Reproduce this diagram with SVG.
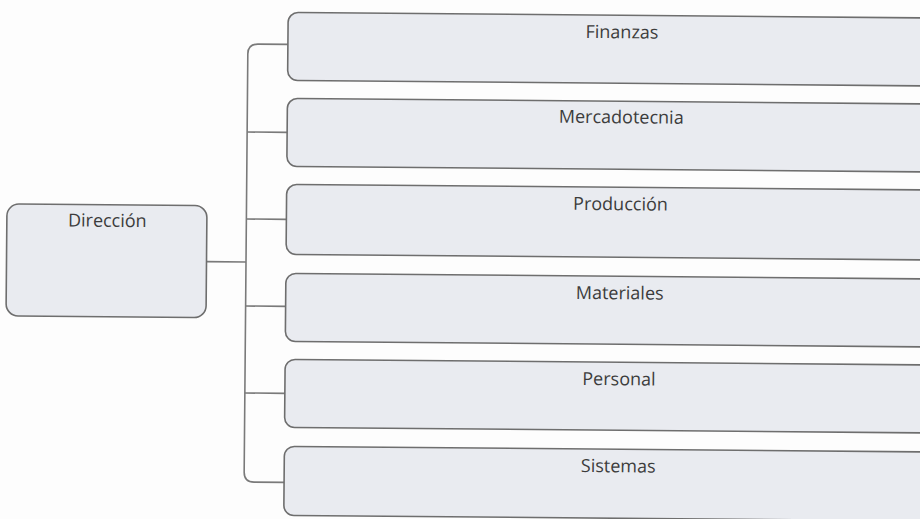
<svg xmlns="http://www.w3.org/2000/svg" width="920" height="519" viewBox="0 0 920 519">
  <style>
    .box { fill: #e9ebf0; stroke: #6e6e6e; stroke-width: 1.6; }
    .lbl { font-family: "Open Sans", "Noto Sans", sans-serif; font-size: 18px; fill: #3c3c3c; text-anchor: middle; }
    .conn { fill: none; stroke: #7a7a7a; stroke-width: 1.6; }
  </style>
  <rect x="0" y="0" width="920" height="519" fill="#fdfdfd"/>
  <g transform="rotate(0.5 246 262)">
    <g id="connectors">
      <path class="conn" d="M206.5,262 H246"/>
      <path class="conn" d="M286,44 H256 Q246,44 246,54 V472 Q246,482 256,482 H286"/>
      <path class="conn" d="M246,132 H286"/>
      <path class="conn" d="M246,219 H286"/>
      <path class="conn" d="M246,306 H286"/>
      <path class="conn" d="M246,393 H286"/>
    </g>
    <g id="direccion">
      <rect class="box" x="6.5" y="206" width="200" height="112" rx="12"/>
      <text class="lbl" x="107" y="228">Dirección</text>
    </g>
    <g id="finanzas">
      <rect class="box" x="286" y="12" width="700" height="68" rx="10"/>
      <text class="lbl" x="620" y="35">Finanzas</text>
    </g>
    <g id="mercadotecnia">
      <rect class="box" x="286" y="98" width="700" height="68" rx="10"/>
      <text class="lbl" x="620" y="120">Mercadotecnia</text>
    </g>
    <g id="produccion">
      <rect class="box" x="286" y="184" width="700" height="70" rx="10"/>
      <text class="lbl" x="620" y="207">Producción</text>
    </g>
    <g id="materiales">
      <rect class="box" x="286" y="273" width="700" height="68" rx="10"/>
      <text class="lbl" x="620" y="296">Materiales</text>
    </g>
    <g id="personal">
      <rect class="box" x="286" y="359" width="700" height="68" rx="10"/>
      <text class="lbl" x="620" y="382">Personal</text>
    </g>
    <g id="sistemas">
      <rect class="box" x="286" y="446" width="700" height="69" rx="10"/>
      <text class="lbl" x="620" y="469">Sistemas</text>
    </g>
  </g>
</svg>
